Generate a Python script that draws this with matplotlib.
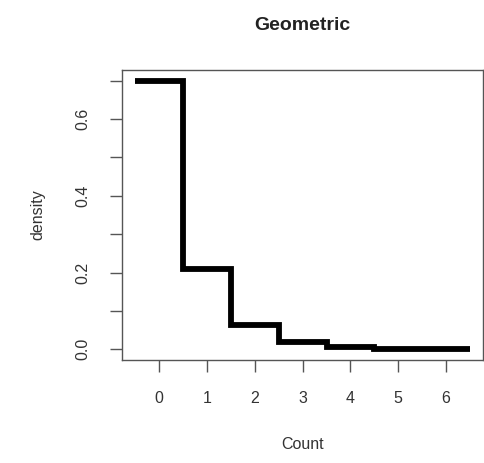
import numpy as np
import matplotlib
matplotlib.use("Agg")
import matplotlib.pyplot as plt

# geometric probabilities, p = 0.7, counts 0..6
counts = [0, 1, 2, 3, 4, 5, 6]
density = [0.7, 0.21, 0.063, 0.0189, 0.00567, 0.0017, 0.00051]
yticks = [0.0, 0.2, 0.4, 0.6]
yminor = [0.1, 0.3, 0.5, 0.7]

plt.rcParams['font.family'] = ['Liberation Sans', 'DejaVu Sans']
plt.rcParams['text.color'] = '#222222'

fig = plt.figure(figsize=(4.85, 4.63), dpi=100)
ax = fig.add_axes([0.2515, 0.2225, 0.745, 0.6265])

edges = np.arange(len(counts) + 1) - 0.5
ax.stairs(density, edges, baseline=None, color='black', lw=4.2)

ax.set_xlim(-0.78, 6.78)
ax.set_ylim(-0.028, 0.728)
ax.set_xticks(counts)
ax.set_yticks(yticks)
ax.set_yticks(yminor, minor=True)
ax.set_yticklabels(['0.0', '0.2', '0.4', '0.6'], rotation=90, va='center')

for s in ax.spines.values():
    s.set_color('#555555')
    s.set_linewidth(1.0)
ax.tick_params(axis='both', which='both', length=8.6, width=1.0,
               color='#555555', labelcolor='#333333', labelsize=11.5, pad=14)

ax.set_xlabel('Count', fontsize=11.5, color='#333333', labelpad=22)
ax.set_ylabel('density', fontsize=11.5, color='#333333', labelpad=22)
ax.set_title('Geometric', fontsize=14, fontweight='bold', color='#222222', pad=29)

fig.savefig('out.png', dpi=100)
